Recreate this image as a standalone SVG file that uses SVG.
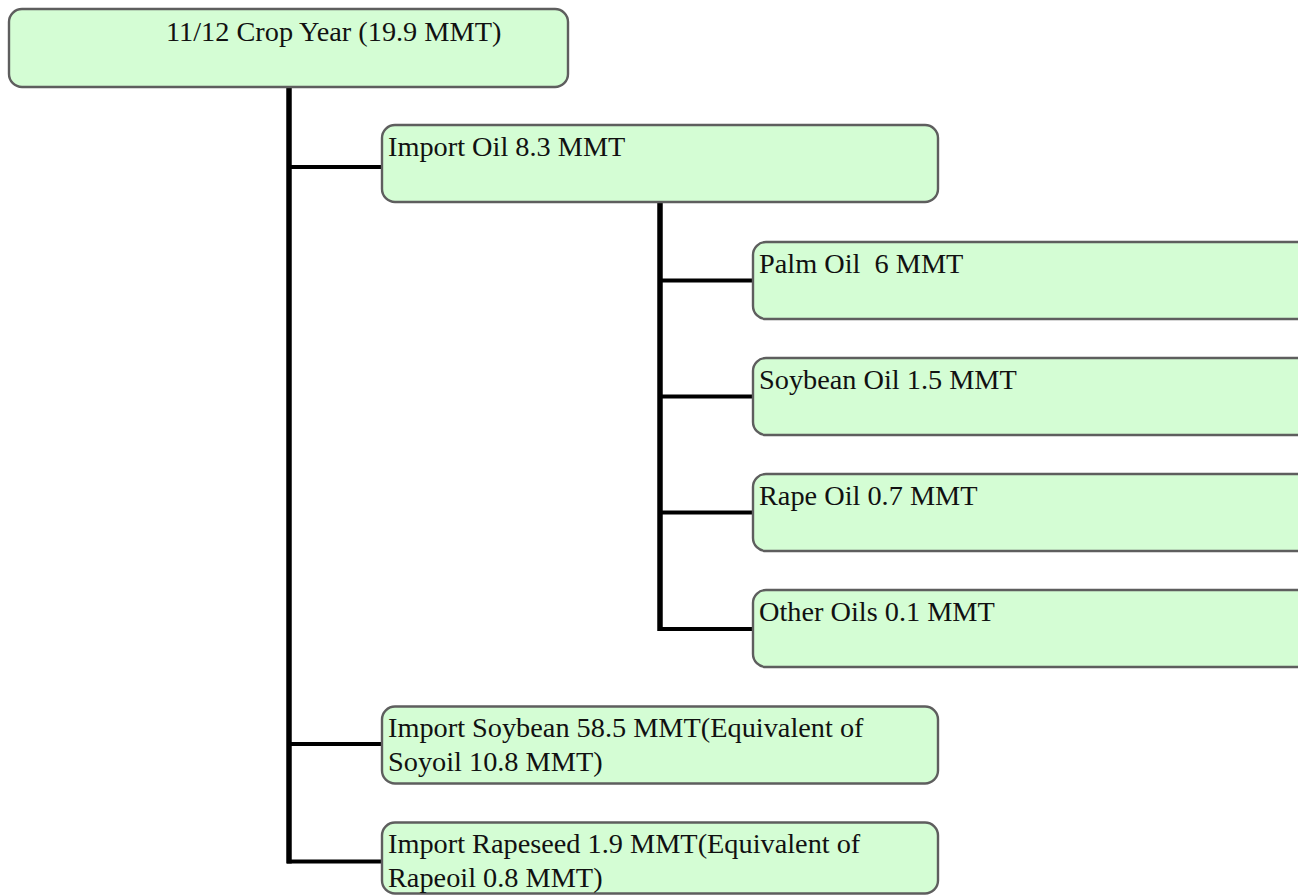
<svg xmlns="http://www.w3.org/2000/svg" width="1298" height="896" viewBox="0 0 1298 896">
<style>
.box{fill:#d4fdd4;stroke:#5e5e5e;stroke-width:2.4}
.t{font-family:"Liberation Serif","Times New Roman",serif;font-size:28.3px;fill:#111}
.v{stroke:#000;stroke-width:5.5;fill:none}
.h{stroke:#000;stroke-width:4;fill:none}
</style>
<rect width="1298" height="896" fill="#fff"/>
<g id="connectors">
<line class="v" x1="289" y1="87" x2="289" y2="863.5"/>
<line class="h" x1="287" y1="167" x2="383" y2="167"/>
<line class="h" x1="287" y1="744" x2="383" y2="744"/>
<line class="h" x1="287" y1="861.5" x2="383" y2="861.5"/>
<line class="v" x1="660" y1="202" x2="660" y2="631"/>
<line class="h" x1="658" y1="280.5" x2="754" y2="280.5"/>
<line class="h" x1="658" y1="396.5" x2="754" y2="396.5"/>
<line class="h" x1="658" y1="512.5" x2="754" y2="512.5"/>
<line class="h" x1="658" y1="629" x2="754" y2="629"/>
</g>
<g id="n-root"><rect class="box" x="9" y="9" width="559" height="78" rx="13"/><text class="t" x="166" y="41">11/12 Crop Year (19.9 MMT)</text></g>
<g id="n-importoil"><rect class="box" x="382" y="125" width="556" height="77" rx="13"/><text class="t" x="388" y="156">Import Oil 8.3 MMT</text></g>
<g id="n-palm"><rect class="box" x="753" y="242" width="560" height="77" rx="13"/><text class="t" x="759" y="273" xml:space="preserve">Palm Oil  6 MMT</text></g>
<g id="n-soyoil"><rect class="box" x="753" y="358" width="560" height="77" rx="13"/><text class="t" x="759" y="389">Soybean Oil 1.5 MMT</text></g>
<g id="n-rapeoil"><rect class="box" x="753" y="474" width="560" height="77" rx="13"/><text class="t" x="759" y="505">Rape Oil 0.7 MMT</text></g>
<g id="n-other"><rect class="box" x="753" y="590" width="560" height="77" rx="13"/><text class="t" x="759" y="621">Other Oils 0.1 MMT</text></g>
<g id="n-soybean"><rect class="box" x="382" y="706.5" width="556" height="77" rx="13"/><text class="t" x="388" y="737">Import Soybean 58.5 MMT(Equivalent of</text><text class="t" x="388" y="771">Soyoil 10.8 MMT)</text></g>
<g id="n-rapeseed"><rect class="box" x="382" y="822.5" width="556" height="71" rx="13"/><text class="t" x="388" y="853">Import Rapeseed 1.9 MMT(Equivalent of</text><text class="t" x="388" y="887">Rapeoil 0.8 MMT)</text></g>
</svg>
